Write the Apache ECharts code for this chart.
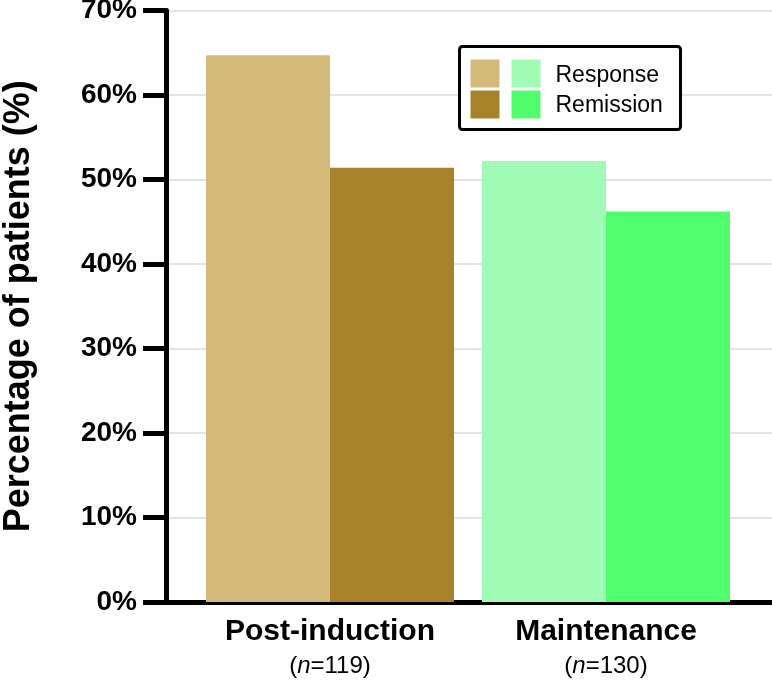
<!DOCTYPE html>
<html>
<head>
<meta charset="utf-8">
<script src="https://cdn.jsdelivr.net/npm/echarts@6/dist/echarts.min.js"></script>
<style>
html,body{margin:0;padding:0;background:#fff;}
#chart{width:772px;height:680px;}
</style>
</head>
<body>
<div id="chart"></div>
<script>
// ---- data ----
const categories = ['Post-induction', 'Maintenance'];
const sampleSizes = ['119', '130'];
const seriesNames = ['Response', 'Remission'];
const responseValues = [64.7, 52.2];
const remissionValues = [51.4, 46.2];
const responseColors = ['#d3ba78', '#a0fcb5'];
const remissionColors = ['#a8822a', '#50fd6c'];
const yMin = 0, yMax = 70, yInterval = 10;
const yAxisTitle = 'Percentage of patients (%)';

const FONT = '"Liberation Sans", Arial, Helvetica, sans-serif';
const chart = echarts.init(document.getElementById('chart'), null, {renderer: 'canvas'});

const gridTop = 10.5, gridBottom = 78;

const option = {
  animation: false,
  backgroundColor: '#ffffff',
  textStyle: {fontFamily: FONT},
  grid: [
    {left: 166, right: 0, top: gridTop, bottom: gridBottom, containLabel: false, outerBoundsMode: 'none'},
    {left: 192, right: 28, top: gridTop, bottom: gridBottom, containLabel: false, outerBoundsMode: 'none'}
  ],
  xAxis: [
    {
      gridIndex: 0, type: 'value', min: 0, max: 1,
      axisLine: {show: true, lineStyle: {color: '#000', width: 5}},
      axisTick: {show: false}, axisLabel: {show: false}, splitLine: {show: false}
    },
    {
      gridIndex: 1, type: 'category', data: categories,
      axisLine: {show: false}, axisTick: {show: false},
      axisLabel: {
        margin: 13,
        formatter: function (v, i) {
          return '{b|' + v + '}\n{p|(}{i|n}{p|=' + sampleSizes[i] + ')}';
        },
        rich: {
          b: {fontFamily: FONT, fontSize: 30, fontWeight: 'bold', color: '#000', lineHeight: 34},
          p: {fontFamily: FONT, fontSize: 24, color: '#000', lineHeight: 35},
          i: {fontFamily: FONT, fontSize: 24, fontStyle: 'italic', color: '#000', lineHeight: 35}
        }
      }
    }
  ],
  yAxis: [
    {
      gridIndex: 0, type: 'value', min: yMin, max: yMax, interval: yInterval,
      name: yAxisTitle, nameLocation: 'middle', nameRotate: 90, nameGap: 129,
      nameTextStyle: {fontFamily: FONT, fontSize: 36, fontWeight: 'bold', color: '#000'},
      axisLine: {show: true, lineStyle: {color: '#000', width: 5}},
      axisTick: {show: true, length: 23, lineStyle: {color: '#000', width: 5}},
      axisLabel: {formatter: '{value}%', margin: 29, fontFamily: FONT, fontSize: 28, fontWeight: 'bold', color: '#000'},
      splitLine: {show: true, lineStyle: {color: '#dde5e5', width: 2}}
    },
    {
      gridIndex: 1, type: 'value', min: yMin, max: yMax, interval: yInterval, show: false,
      splitLine: {show: false}
    }
  ],
  series: [
    {
      name: seriesNames[0], type: 'bar', xAxisIndex: 1, yAxisIndex: 1,
      barWidth: 124, barGap: '0%',
      data: responseValues.map((v, i) => ({value: v, itemStyle: {color: responseColors[i]}}))
    },
    {
      name: seriesNames[1], type: 'bar', xAxisIndex: 1, yAxisIndex: 1,
      barWidth: 124, barGap: '0%',
      data: remissionValues.map((v, i) => ({value: v, itemStyle: {color: remissionColors[i]}}))
    }
  ],
  graphic: [
    {
      type: 'group', left: 458, top: 45, z: 100,
      children: [
        {type: 'rect', z: 100, shape: {x: 0, y: 0, width: 221, height: 83, r: 3},
         style: {fill: '#fff', stroke: '#000', lineWidth: 3}},
        {type: 'rect', z: 101, shape: {x: 11, y: 13, width: 29, height: 28}, style: {fill: responseColors[0]}},
        {type: 'rect', z: 101, shape: {x: 11, y: 44, width: 29, height: 28}, style: {fill: remissionColors[0]}},
        {type: 'rect', z: 101, shape: {x: 52, y: 13, width: 29, height: 28}, style: {fill: responseColors[1]}},
        {type: 'rect', z: 101, shape: {x: 52, y: 44, width: 29, height: 28}, style: {fill: remissionColors[1]}},
        {type: 'text', z: 102, x: 96, y: 29, style: {text: seriesNames[0], font: '23px ' + FONT, fill: '#000', verticalAlign: 'middle'}},
        {type: 'text', z: 102, x: 96, y: 59, style: {text: seriesNames[1], font: '23px ' + FONT, fill: '#000', verticalAlign: 'middle'}}
      ]
    }
  ]
};
chart.setOption(option);
</script>
</body>
</html>
